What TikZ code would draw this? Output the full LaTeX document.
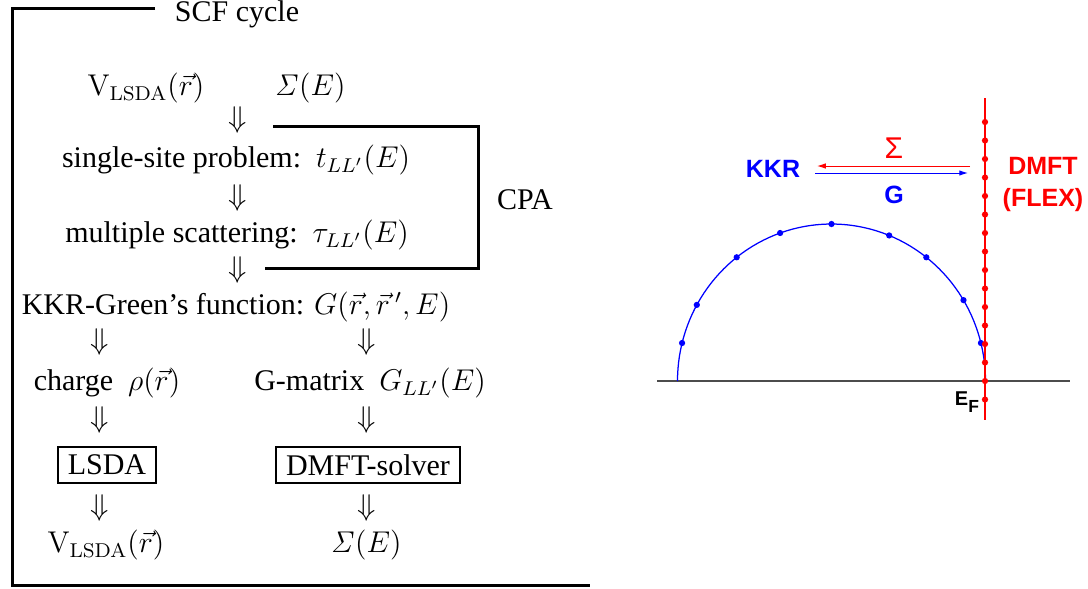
\documentclass[tikz,border=0pt]{standalone}
\usepackage[no-math]{fontspec}
\setmainfont{Liberation Serif}
\newfontfamily\hv{Liberation Sans}
\usetikzlibrary{arrows.meta}
\begin{document}
\begin{tikzpicture}[x=0.4pt,y=-0.4pt,
  txt/.style={inner sep=0pt, font=\fontsize{12}{14}\selectfont},
  dn/.style={inner sep=0pt, font=\fontsize{12.5}{14}\selectfont},
  boxed/.style={draw, line width=0.8pt, inner xsep=4pt, inner ysep=3pt, font=\fontsize{12}{14}\selectfont},
  frame/.style={line width=1.2pt},
  sans/.style={inner sep=0pt, font=\hv\bfseries\fontsize{10}{12.8}\selectfont, align=center},
  thinarrow/.style={line width=0.4pt, -{Latex[length=3.5pt,width=2.2pt]}}]
\useasboundingbox (0,0) rectangle (1088,588);
% ---------- left panel ----------
\draw[frame] (155,8) -- (12,8) -- (12,585) -- (590,585);
\node[txt] (scf) at (237,14) {SCF cycle};
\node[txt] (v1) at (146,88) {$\mathrm{V}_{\mathrm{LSDA}}(\vec r)$};
\node[txt] (s1) at (310,88) {$\mathit{\Sigma}(E)$};
\node[dn] (d1) at (238,120) {$\Downarrow$};
\node[txt] (ss) at (236,160) {single-site problem:\ \ $t_{LL'}(E)$};
\node[dn] (d2) at (238,198) {$\Downarrow$};
\node[txt] (ms) at (237,235) {multiple scattering:\ \ $\tau_{LL'}(E)$};
\node[dn] (d3) at (238,270) {$\Downarrow$};
\node[txt] (kkrg) at (236,307) {KKR-Green's function: $G(\vec r,\vec r\,',E)$};
\node[dn] (d4) at (100,342) {$\Downarrow$};
\node[dn] (d5) at (367,342) {$\Downarrow$};
\node[txt] (ch) at (107,383) {charge\ \ $\rho(\vec r)$};
\node[txt] (gm) at (370,383) {G-matrix\ \ $G_{LL'}(E)$};
\node[dn] (d6) at (100,420) {$\Downarrow$};
\node[dn] (d7) at (367,420) {$\Downarrow$};
\node[boxed] (lsda) at (107,465) {LSDA};
\node[boxed] (dmfts) at (368,465) {DMFT-solver};
\node[dn] (d8) at (100,508) {$\Downarrow$};
\node[dn] (d9) at (367,508) {$\Downarrow$};
\node[txt] (v2) at (106,545) {$\mathrm{V}_{\mathrm{LSDA}}(\vec r)$};
\node[txt] (s2) at (366,545) {$\mathit{\Sigma}(E)$};
\draw[frame] (273,126) -- (478,126) -- (478,268) -- (265,268);
\node[txt] (cpa) at (525,200) {CPA};
% ---------- right panel ----------
\draw[line width=0.8pt, black!70] (657,381) -- (1070,381);
\draw[blue, line width=0.5pt] plot[domain=0:180, samples=80] ({831.5+154*cos(\x)},{381-157*sin(\x)});
\foreach \a in {166,151,128,109.5,90,68,52,31,14}
  \fill[blue] ({831.5+154*cos(\a)},{381-157*sin(\a)}) circle[radius=1.25pt];
\draw[red, line width=0.6pt] (985,98) -- (985,420);
\foreach \k in {-14,...,1}
  \fill[red] (985,{381+18.5*\k}) circle[radius=1.25pt];
\node[sans, text=blue] (kkr) at (773,169) {KKR};
\node[sans, text=red] (dmft) at (1043,184) {DMFT\\(FLEX)};
\coordinate (ra) at (970,166);
\coordinate (rb) at (817,166);
\coordinate (ba) at (815,173);
\coordinate (bb) at (968,173);
\draw[thinarrow, red] (ra) -- (rb);
\draw[thinarrow, blue] (ba) -- (bb);
\node[inner sep=0pt, text=red, font=\hv\fontsize{12}{14}\selectfont] (sig) at (894,148) {Σ};
\node[sans, text=blue] (g) at (894,195) {G};
\node[inner sep=0pt, font=\hv\bfseries\fontsize{8}{9}\selectfont] (ef) at (967,402) {E\raisebox{-3pt}{\fontsize{7}{8}\selectfont F}};
\end{tikzpicture}
\end{document}
